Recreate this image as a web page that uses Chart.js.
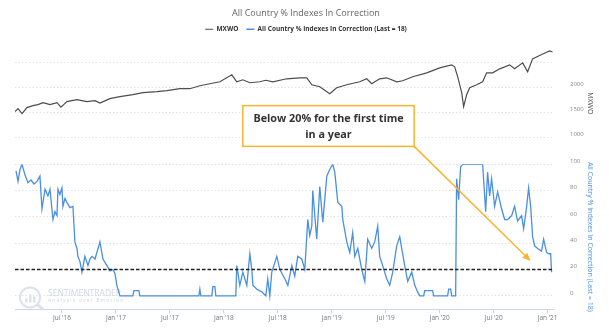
<!DOCTYPE html>
<html>
<head>
<meta charset="utf-8">
<script src="https://cdn.jsdelivr.net/npm/chart.js@4.4.1/dist/chart.umd.min.js"></script>
<style>
  html, body { margin: 0; padding: 0; background: #fff; }
</style>
</head>
<body>
<canvas id="chart" width="609" height="330"></canvas>
<script>
// dates are decimal years (2016.5 = early July 2016)
const mxwoDates = [
  2016.065, 2016.093, 2016.130, 2016.176, 2016.231, 2016.278, 2016.324, 2016.389, 2016.454, 2016.491,
  2016.546, 2016.639, 2016.731, 2016.806, 2016.852, 2016.944, 2017.037, 2017.157, 2017.250, 2017.380,
  2017.472, 2017.593, 2017.685, 2017.778, 2017.870, 2017.963, 2018.074, 2018.120, 2018.176, 2018.241,
  2018.333, 2018.389, 2018.454, 2018.583, 2018.704, 2018.769, 2018.815, 2018.889, 2018.981, 2019.046,
  2019.139, 2019.259, 2019.324, 2019.370, 2019.444, 2019.509, 2019.602, 2019.657, 2019.750, 2019.880,
  2020.000, 2020.111, 2020.139, 2020.167, 2020.204, 2020.222, 2020.250, 2020.278, 2020.343, 2020.398,
  2020.435, 2020.491, 2020.556, 2020.648, 2020.694, 2020.769, 2020.815, 2020.861, 2020.954, 2021.019,
  2021.046
];
const mxwoValues = [
  1520, 1580, 1480, 1600, 1640, 1660, 1700, 1660, 1700, 1610,
  1720, 1760, 1720, 1740, 1690, 1780, 1820, 1860, 1900, 1920,
  1940, 1980, 1980, 2040, 2080, 2120, 2260, 2120, 2160, 2100,
  2120, 2150, 2120, 2180, 2200, 2200, 2060, 2020, 1880, 2000,
  2060, 2120, 2180, 2080, 2180, 2200, 2120, 2140, 2220, 2300,
  2400, 2460, 2420, 2220, 1900, 1620, 1860, 2000, 2060, 2120,
  2300, 2300, 2380, 2460, 2380, 2500, 2320, 2580, 2680, 2740,
  2720
];

const pctDates = [
  2016.074, 2016.093, 2016.111, 2016.130, 2016.157, 2016.185, 2016.213, 2016.241, 2016.269, 2016.296,
  2016.315, 2016.343, 2016.370, 2016.389, 2016.417, 2016.435, 2016.454, 2016.463, 2016.481, 2016.500,
  2016.509, 2016.528, 2016.546, 2016.574, 2016.602, 2016.620, 2016.639, 2016.648, 2016.667, 2016.685,
  2016.713, 2016.741, 2016.759, 2016.778, 2016.806, 2016.852, 2016.880, 2016.917, 2016.944, 2016.972,
  2016.991, 2017.009, 2017.037, 2017.157, 2017.167, 2017.213, 2017.222, 2017.769, 2017.778, 2017.787,
  2017.889, 2017.898, 2017.917, 2017.926, 2018.111, 2018.120, 2018.148, 2018.176, 2018.213, 2018.241,
  2018.259, 2018.269, 2018.306, 2018.352, 2018.389, 2018.407, 2018.426, 2018.444, 2018.491, 2018.519,
  2018.565, 2018.593, 2018.630, 2018.657, 2018.685, 2018.722, 2018.750, 2018.778, 2018.796, 2018.815,
  2018.824, 2018.861, 2018.889, 2018.917, 2018.954, 2018.981, 2019.009, 2019.028, 2019.056, 2019.093,
  2019.102, 2019.139, 2019.167, 2019.194, 2019.213, 2019.241, 2019.278, 2019.306, 2019.333, 2019.370,
  2019.398, 2019.426, 2019.444, 2019.472, 2019.509, 2019.537, 2019.565, 2019.602, 2019.630, 2019.648,
  2019.676, 2019.704, 2019.741, 2019.769, 2019.796, 2019.815, 2019.852, 2019.861, 2019.935, 2019.944,
  2020.074, 2020.083, 2020.102, 2020.111, 2020.148, 2020.157, 2020.176, 2020.194, 2020.213, 2020.398,
  2020.426, 2020.444, 2020.463, 2020.481, 2020.509, 2020.537, 2020.574, 2020.602, 2020.630, 2020.667,
  2020.694, 2020.722, 2020.759, 2020.778, 2020.806, 2020.824, 2020.843, 2020.861, 2020.880, 2020.907,
  2020.944, 2020.963, 2020.991, 2021.009, 2021.028, 2021.037
];
const pctValues = [
  95, 87, 96, 100, 92, 86, 88, 85, 87, 91,
  66, 81, 76, 81, 58, 64, 61, 81, 77, 82,
  68, 74, 71, 67, 68, 41, 36, 30, 26, 18,
  30, 23, 28, 30, 28, 41, 28, 23, 19, 20,
  17, 8, 0, 0, 4, 4, 0, 0, 5, 0,
  0, 7, 7, 0, 0, 23, 8, 18, 8, 32,
  20, 8, 5, 3, 0, 13, 0, 18, 30, 20,
  13, 8, 23, 15, 30, 28, 20, 58, 46, 53,
  80, 43, 83, 56, 91, 96, 100, 94, 71, 68,
  58, 41, 33, 48, 30, 36, 20, 11, 43, 36,
  41, 53, 30, 23, 13, 8, 18, 38, 45, 36,
  23, 11, 18, 8, 3, 0, 0, 4, 4, 0,
  0, 5, 5, 0, 0, 89, 73, 98, 100, 100,
  64, 94, 76, 89, 68, 79, 66, 58, 58, 61,
  68, 57, 61, 51, 68, 82, 68, 45, 38, 36,
  34, 43, 33, 32, 32, 18
];

const threshold = 20;
const xStart = 2016.065;
const xEnd = 2021.05;

const xTickValues = [2016.5, 2017, 2017.5, 2018, 2018.5, 2019, 2019.5, 2020, 2020.5, 2021];
const xTickLabels = ["Jul '16", "Jan '17", "Jul '17", "Jan '18", "Jul '18", "Jan '19", "Jul '19", "Jan '20", "Jul '20", "Jan '21"];
const mxwoGridValues = [1000, 1500, 2000, 2500];
const mxwoLabelValues = [1000, 1500, 2000];
const pctGridValues = [0, 20, 40, 60, 80, 100];

// callout, anchored in data units
const note = {
  lines: ['Below 20% for the first time', 'in a year'],
  from: 2018.176, to: 2019.764,   // x
  top: 1640, bottom: 820,         // MXWO units
  tipX: 2020.843, tipY: 26.5      // % units
};

Chart.defaults.font.family = '"Open Sans", sans-serif';

function toPoints(xs, ys) {
  return xs.map((x, i) => ({ x: x, y: ys[i] }));
}

const watermark = {
  id: 'watermark',
  beforeDatasetsDraw(chart) {
    const { ctx, chartArea } = chart;
    const cx = chartArea.left + 15;
    const cy = chartArea.bottom - 12;
    ctx.save();
    ctx.strokeStyle = '#dbe2ea';
    ctx.fillStyle = '#dbe2ea';
    ctx.lineWidth = 2;
    ctx.beginPath();
    ctx.arc(cx, cy, 10, 0, Math.PI * 2);
    ctx.stroke();
    [[-5, 4], [-1, 8], [3, 6]].forEach(([dx, h]) => ctx.fillRect(cx + dx, cy + 5 - h, 2.5, h));
    ctx.lineWidth = 3;
    ctx.beginPath();
    ctx.moveTo(cx + 7, cy + 7);
    ctx.lineTo(cx + 13, cy + 12);
    ctx.stroke();
    ctx.fillStyle = '#cdd7e3';
    ctx.textBaseline = 'middle';
    ctx.font = '8.5px "Open Sans"';
    ctx.fillText('SENTIMENTRADER', cx + 18, cy - 4);
    ctx.font = '5px "Open Sans"';
    ctx.letterSpacing = '1.2px';
    ctx.fillText('Analysis over Emotion', cx + 18, cy + 3.5);
    ctx.restore();
  }
};

const callout = {
  id: 'callout',
  afterDatasetsDraw(chart) {
    const { ctx, scales } = chart;
    const x0 = scales.x.getPixelForValue(note.from);
    const x1 = scales.x.getPixelForValue(note.to);
    const y0 = scales.yMxwo.getPixelForValue(note.top);
    const y1 = scales.yMxwo.getPixelForValue(note.bottom);
    const tx = scales.x.getPixelForValue(note.tipX);
    const ty = scales.yPct.getPixelForValue(note.tipY);
    ctx.save();
    ctx.fillStyle = '#fff';
    ctx.fillRect(x0, y0, x1 - x0, y1 - y0);
    ctx.strokeStyle = '#f5b532';
    ctx.lineWidth = 1.5;
    ctx.strokeRect(x0, y0, x1 - x0, y1 - y0);

    ctx.fillStyle = '#333';
    ctx.font = 'bold 10.8px "Open Sans"';
    ctx.textAlign = 'center';
    ctx.textBaseline = 'middle';
    const mid = (y0 + y1) / 2;
    ctx.fillText(note.lines[0], (x0 + x1) / 2, mid - 7);
    ctx.fillText(note.lines[1], (x0 + x1) / 2, mid + 8.5);

    // arrow
    const ang = Math.atan2(ty - y1, tx - x1);
    const head = 9;
    ctx.strokeStyle = '#f5b532';
    ctx.fillStyle = '#f5b532';
    ctx.lineWidth = 1.5;
    ctx.beginPath();
    ctx.moveTo(x1, y1);
    ctx.lineTo(tx - Math.cos(ang) * head * 0.8, ty - Math.sin(ang) * head * 0.8);
    ctx.stroke();
    ctx.beginPath();
    ctx.moveTo(tx, ty);
    ctx.lineTo(tx - head * Math.cos(ang - 0.4), ty - head * Math.sin(ang - 0.4));
    ctx.lineTo(tx - head * Math.cos(ang + 0.4), ty - head * Math.sin(ang + 0.4));
    ctx.closePath();
    ctx.fill();
    ctx.restore();
  }
};

const gridDash = [1.5, 2];

new Chart(document.getElementById('chart').getContext('2d'), {
  type: 'line',
  data: {
    datasets: [
      {
        label: 'MXWO',
        data: toPoints(mxwoDates, mxwoValues),
        yAxisID: 'yMxwo',
        borderColor: '#4d4d4d',
        borderWidth: 1.2,
        pointRadius: 0,
        tension: 0
      },
      {
        label: 'All Country % Indexes In Correction (Last = 18)',
        data: toPoints(pctDates, pctValues),
        yAxisID: 'yPct',
        borderColor: '#4a8fe0',
        borderWidth: 1.3,
        pointRadius: 0,
        tension: 0
      },
      {
        label: 'threshold',
        data: [{ x: xStart, y: threshold }, { x: xEnd, y: threshold }],
        yAxisID: 'yPct',
        borderColor: '#222',
        borderWidth: 1.6,
        borderDash: [3.5, 2],
        pointRadius: 0,
        order: -1
      }
    ]
  },
  options: {
    responsive: false,
    animation: false,
    events: [],
    layout: { padding: { left: 15, right: 12, top: 0, bottom: 5 } },
    plugins: {
      title: {
        display: true,
        text: 'All Country % Indexes In Correction',
        color: '#666',
        font: { size: 9, weight: 'normal', lineHeight: 1 },
        padding: { top: 9, bottom: 0 }
      },
      legend: {
        display: true,
        position: 'top',
        labels: {
          color: '#333',
          font: { size: 6.5, weight: 'bold' },
          usePointStyle: true,
          pointStyle: 'line',
          pointStyleWidth: 8,
          padding: 8,
          filter: item => item.datasetIndex < 2
        }
      },
      tooltip: { enabled: false }
    },
    scales: {
      x: {
        type: 'linear',
        min: xStart,
        max: xEnd,
        afterBuildTicks: scale => { scale.ticks = xTickValues.map(v => ({ value: v })); },
        ticks: {
          callback: value => xTickLabels[xTickValues.indexOf(value)],
          color: '#777',
          font: { size: 6.5 },
          padding: 1,
          maxRotation: 0,
          autoSkip: false
        },
        grid: { drawOnChartArea: false, drawTicks: true, tickLength: 4, color: '#ccd6eb' },
        border: { display: true, color: '#ccd6eb' }
      },
      yMxwo: {
        position: 'right',
        stack: 'panes',
        stackWeight: 122.5,
        min: 460,
        max: 2910,
        afterBuildTicks: scale => { scale.ticks = mxwoGridValues.map(v => ({ value: v })); },
        afterFit: scale => { scale.width = 44; },
        ticks: {
          callback: value => mxwoLabelValues.includes(value) ? String(value) : '',
          color: '#888',
          font: { size: 6 },
          padding: 17,
          crossAlign: 'near',
          labelOffset: -3
        },
        grid: { color: '#e2e2e2', drawTicks: false },
        border: { display: false, dash: gridDash },
        title: { display: true, text: 'MXWO', color: '#444', font: { size: 7 }, padding: { top: 3, bottom: 0 } }
      },
      yPct: {
        position: 'right',
        stack: 'panes',
        stackWeight: 146,
        min: -10.3,
        max: 100,
        afterBuildTicks: scale => { scale.ticks = pctGridValues.map(v => ({ value: v })); },
        afterFit: scale => { scale.width = 44; },
        ticks: {
          callback: value => String(value),
          color: '#888',
          font: { size: 6 },
          padding: 17,
          crossAlign: 'near',
          labelOffset: -3
        },
        grid: { color: '#e2e2e2', drawTicks: false },
        border: { display: false, dash: gridDash },
        title: {
          display: true,
          text: 'All Country % Indexes In Correction (Last = 18)',
          color: '#4a8fe0',
          font: { size: 7 },
          padding: { top: 3, bottom: 0 }
        }
      }
    }
  },
  plugins: [watermark, callout]
});
</script>
</body>
</html>
